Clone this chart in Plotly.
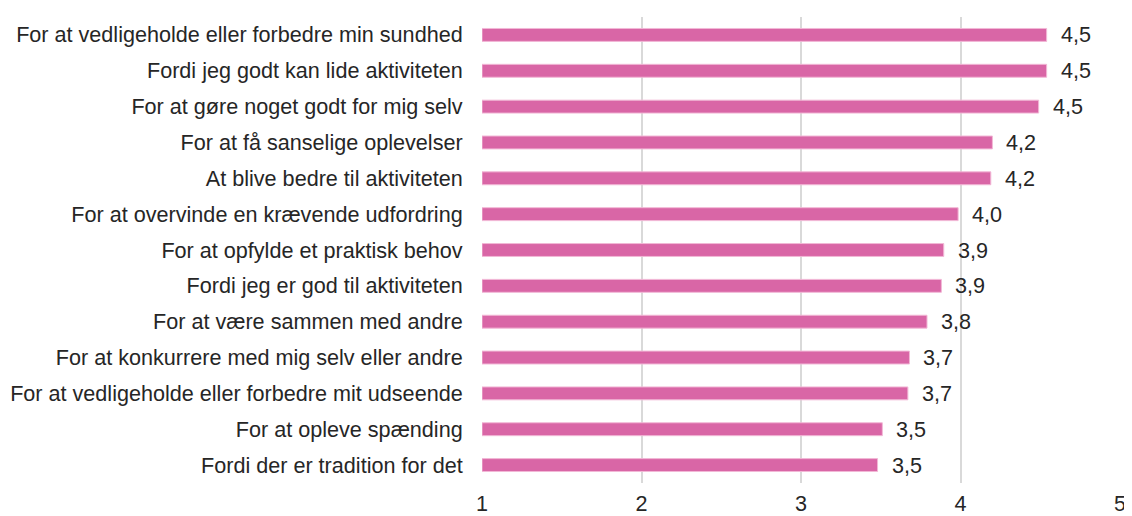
import plotly.graph_objects as go

categories = [
    "For at vedligeholde eller forbedre min sundhed",
    "Fordi jeg godt kan lide aktiviteten",
    "For at gøre noget godt for mig selv",
    "For at få sanselige oplevelser",
    "At blive bedre til aktiviteten",
    "For at overvinde en krævende udfordring",
    "For at opfylde et praktisk behov",
    "Fordi jeg er god til aktiviteten",
    "For at være sammen med andre",
    "For at konkurrere med mig selv eller andre",
    "For at vedligeholde eller forbedre mit udseende",
    "For at opleve spænding",
    "Fordi der er tradition for det",
]
values = [4.54, 4.54, 4.49, 4.20, 4.19, 3.985, 3.895, 3.88, 3.79, 3.68, 3.67, 3.51, 3.48]
tick_vals = [1, 2, 3, 4, 5]

FONT = "Liberation Sans, Arial, sans-serif"
TXT = "#262626"
FS = 21.6

fig = go.Figure()
fig.add_trace(go.Bar(
    y=categories,
    x=[v - 1 for v in values],
    base=1,
    orientation="h",
    marker=dict(color="#d966a6", line=dict(color="#f2b8d6", width=1)),
    hoverinfo="skip",
))

annotations = []
for c, v in zip(categories, values):
    annotations.append(dict(
        x=v, y=c, xref="x", yref="y", text=f"{v:.1f}".replace(".", ","),
        showarrow=False, xanchor="left", yanchor="middle", xshift=12,
        font=dict(family=FONT, size=FS, color=TXT),
    ))

# page body has an 8px margin, so the figure is 8px smaller and offset
fig.update_layout(
    width=1124, height=508,
    margin=dict(l=474, r=12, t=9, b=33),
    paper_bgcolor="white", plot_bgcolor="white",
    bargap=0.64,
    showlegend=False,
    annotations=annotations,
    font=dict(family=FONT, size=FS, color=TXT),
)
fig.update_xaxes(
    range=[1, 5], tickvals=tick_vals, ticktext=[str(t) for t in tick_vals],
    showgrid=True, gridcolor="#d9d9d9", gridwidth=1.5,
    zeroline=False, showline=False, automargin=False,
    ticks="outside", ticklen=1, tickcolor="rgba(0,0,0,0)",
    tickfont=dict(family=FONT, size=FS, color=TXT),
)
fig.update_yaxes(
    categoryorder="array", categoryarray=categories[::-1],
    showgrid=False, zeroline=False, showline=False, automargin=False,
    ticks="outside", ticklen=14, tickcolor="rgba(0,0,0,0)",
    tickfont=dict(family=FONT, size=FS, color=TXT),
)

fig.write_html("out.html")
